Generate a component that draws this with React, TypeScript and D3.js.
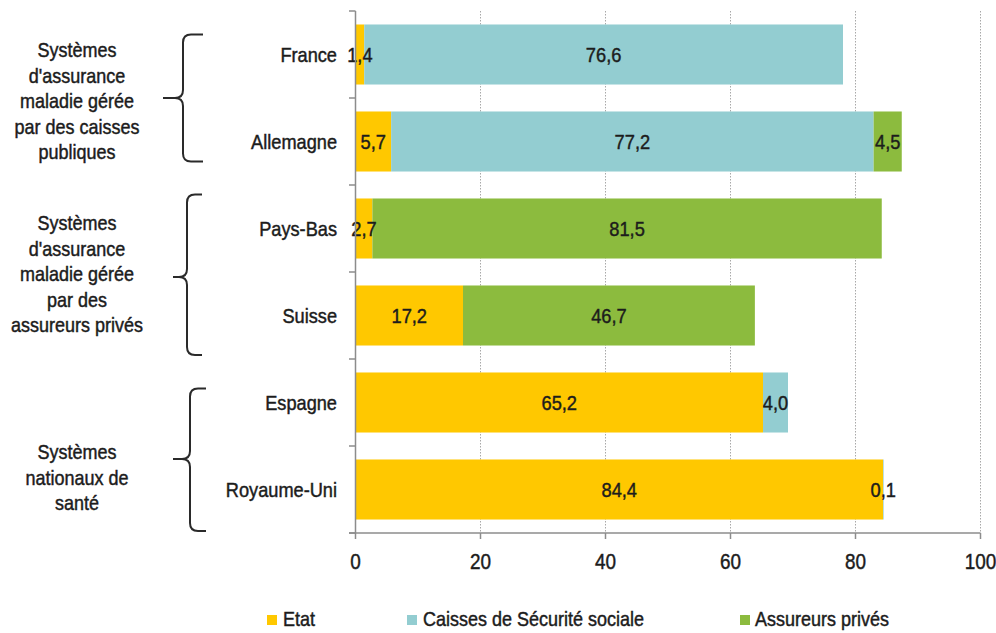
import React from "react";
import * as d3 from "d3";

const categories = ["France", "Allemagne", "Pays-Bas", "Suisse", "Espagne", "Royaume-Uni"];
const etat = [1.4, 5.7, 2.7, 17.2, 65.2, 84.4];
const caisses = [76.6, 77.2, 0, 0, 4.0, 0.1];
const prives = [0, 4.5, 81.5, 46.7, 0, 0];
const seriesNames = ["Etat", "Caisses de Sécurité sociale", "Assureurs privés"];
const xTicks = [0, 20, 40, 60, 80, 100];

const groups = [
  { lines: ["Systèmes", "d'assurance", "maladie gérée", "par des caisses", "publiques"], first: "France", last: "Allemagne" },
  { lines: ["Systèmes", "d'assurance", "maladie gérée", "par des", "assureurs privés"], first: "Pays-Bas", last: "Suisse" },
  { lines: ["Systèmes", "nationaux de", "santé"], first: "Espagne", last: "Royaume-Uni" },
];

// layout tweaks for the hand-drawn braces / labels
const braceLayout = [
  { spine: 183, tip: 163, end: 203, dTop: 10, dBot: -10, dMid: 0, firstBase: 57 },
  { spine: 187, tip: 173, end: 202, dTop: -4, dBot: 9.5, dMid: 5, firstBase: 230 },
  { spine: 190, tip: 173, end: 206, dTop: 16, dBot: 11.5, dMid: 13, firstBase: 459 },
];

const COLORS = ["#FFC800", "#93CDD1", "#8CBB3E"];
const FONT = "'Liberation Sans', Arial, sans-serif";
const TXT = "#1c1c1c";

function T({ x, y, s = 20, sx = 0.9, anchor = "middle", children }: any) {
  return (
    <text
      transform={`translate(${x},${y}) scale(${sx},1)`}
      fontSize={s}
      fontFamily={FONT}
      textAnchor={anchor}
      fill={TXT}
      stroke={TXT}
      strokeWidth={0.45}
    >
      {children}
    </text>
  );
}

function bracePath(spine: number, tip: number, end: number, y0: number, y1: number, ym: number) {
  const r = 8;
  return `M${end},${y0} L${spine + r},${y0} Q${spine},${y0} ${spine},${y0 + r} L${spine},${ym - r} Q${spine},${ym} ${spine - r},${ym} L${tip},${ym} M${spine - r},${ym} Q${spine},${ym} ${spine},${ym + r} L${spine},${y1 - r} Q${spine},${y1} ${spine + r},${y1} L${end},${y1}`;
}

export default function App() {
  const W = 996, H = 633;
  const x = d3.scaleLinear().domain([0, 100]).range([355.5, 980.5]);
  const y = d3.scaleBand<string>().domain(categories).range([11, 533]).paddingInner(0.31).paddingOuter(0.155);
  const bw = y.bandwidth();
  const step = y.step();

  const table = categories.map((c, i) => ({ cat: c, a: etat[i], b: caisses[i], c2: prives[i] }));
  const stack = d3.stack<any>().keys(["a", "b", "c2"])(table);
  const fmt = (v: number) => v.toFixed(1).replace(".", ",");

  const bounds = d3.range(categories.length + 1).map((i) => 11 + i * step);

  return (
    <svg width={W} height={H} style={{ position: "absolute", left: 0, top: 0, background: "#fff" }}>
      <rect width={W} height={H} fill="#fff" />
      {/* gridlines */}
      {xTicks.slice(1).map((t) => (
        <line key={t} x1={x(t)} x2={x(t)} y1={11} y2={533} stroke="#a8a8a8" strokeWidth={1} strokeDasharray="1.5,1.5" />
      ))}
      {/* bars */}
      {stack.map((s, si) =>
        s.map((d, i) => {
          const v = d[1] - d[0];
          if (v <= 0) return null;
          return (
            <rect key={si + "-" + i} x={x(d[0])} y={y(categories[i])} width={x(d[1]) - x(d[0])} height={bw} fill={COLORS[si]} />
          );
        })
      )}
      {/* value labels */}
      {stack.map((s, si) =>
        s.map((d, i) => {
          const v = d[1] - d[0];
          if (v <= 0) return null;
          const cx = (x(d[0]) + x(d[1])) / 2;
          const cy = (y(categories[i]) as number) + bw / 2 + 7.5;
          return (
            <T key={"l" + si + "-" + i} x={cx} y={cy} s={21} sx={0.87}>
              {fmt(v)}
            </T>
          );
        })
      )}
      {/* y axis */}
      <line x1={355.5} x2={355.5} y1={11} y2={533} stroke="#8c8c8c" strokeWidth={1.5} />
      {bounds.map((b, i) => (
        <line key={"yt" + i} x1={349} x2={355.5} y1={b} y2={b} stroke="#8c8c8c" strokeWidth={1.5} />
      ))}
      {/* x axis */}
      <line x1={349} x2={980.5} y1={533} y2={533} stroke="#8c8c8c" strokeWidth={1.5} />
      {xTicks.map((t) => (
        <line key={"xt" + t} x1={x(t)} x2={x(t)} y1={533} y2={539} stroke="#8c8c8c" strokeWidth={1.5} />
      ))}
      {xTicks.map((t) => (
        <T key={"xl" + t} x={x(t)} y={569} s={22} sx={0.86}>
          {t}
        </T>
      ))}
      {/* category labels */}
      {categories.map((c) => (
        <T key={c} x={337} y={(y(c) as number) + bw / 2 + 7} s={20} sx={0.91} anchor="end">
          {c}
        </T>
      ))}
      {/* groups */}
      {groups.map((g, gi) => {
        const L = braceLayout[gi];
        const top = (y(g.first) as number) + L.dTop;
        const bot = (y(g.last) as number) + bw + L.dBot;
        const mid = (y(g.last) as number) - (step - bw) / 2 + L.dMid;
        return (
          <g key={"g" + gi}>
            <path d={bracePath(L.spine, L.tip, L.end, top, bot, mid)} fill="none" stroke="#2a2a2a" strokeWidth={2} />
            {g.lines.map((ln, li) => (
              <T key={li} x={77} y={L.firstBase + li * 25.5} s={20} sx={0.9}>
                {ln}
              </T>
            ))}
          </g>
        );
      })}
      {/* legend */}
      {[{ sq: 267, tx: 283 }, { sq: 407, tx: 423 }, { sq: 740, tx: 755 }].map((p, i) => (
        <g key={"lg" + i}>
          <rect x={p.sq} y={615} width={10} height={10} fill={COLORS[i]} />
          <T x={p.tx} y={626} s={20} sx={0.9} anchor="start">
            {seriesNames[i]}
          </T>
        </g>
      ))}
    </svg>
  );
}
